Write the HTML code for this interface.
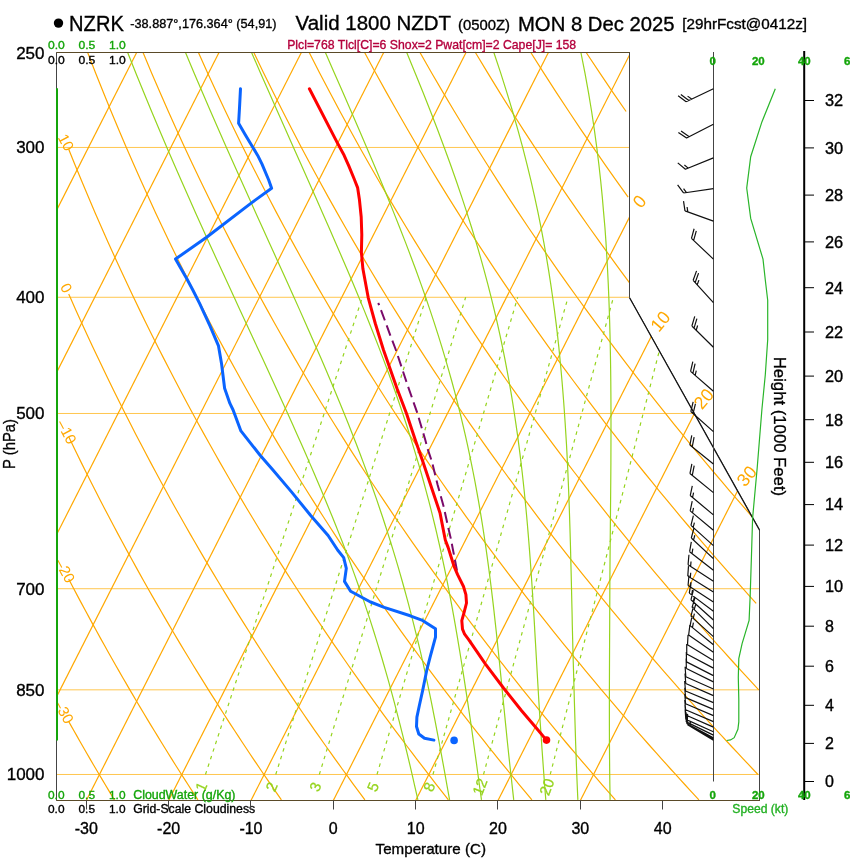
<!DOCTYPE html><html><head><meta charset="utf-8"><style>html,body{margin:0;padding:0;background:#fff;width:850px;height:860px;overflow:hidden}svg{display:block}text{font-family:"Liberation Sans",sans-serif}svg{will-change:transform}</style></head><body>
<svg width="850" height="860" viewBox="0 0 850 860">
<rect width="850" height="860" fill="#fff"/>
<defs><clipPath id="cp"><polygon points="56.5,800.5 759.5,800.5 759.5,529.5 629.5,297.31 629.5,52.5 56.5,52.5"/></clipPath></defs>
<g clip-path="url(#cp)" fill="none">
<line x1="56.5" y1="52.5" x2="760" y2="52.5" stroke="#ffc64f" stroke-width="1"/>
<line x1="56.5" y1="147.45" x2="760" y2="147.45" stroke="#ffc64f" stroke-width="1"/>
<line x1="56.5" y1="297.27" x2="760" y2="297.27" stroke="#ffc64f" stroke-width="1"/>
<line x1="56.5" y1="413.48" x2="760" y2="413.48" stroke="#ffc64f" stroke-width="1"/>
<line x1="56.5" y1="588.72" x2="760" y2="588.72" stroke="#ffc64f" stroke-width="1"/>
<line x1="56.5" y1="689.83" x2="760" y2="689.83" stroke="#ffc64f" stroke-width="1"/>
<line x1="56.5" y1="774.47" x2="760" y2="774.47" stroke="#ffc64f" stroke-width="1"/>
<line x1="-490.14" y1="800.5" x2="-110.37" y2="52.5" stroke="#ffa800" stroke-width="1.2"/>
<line x1="-407.8" y1="800.5" x2="-28.02" y2="52.5" stroke="#ffa800" stroke-width="1.2"/>
<line x1="-325.45" y1="800.5" x2="54.32" y2="52.5" stroke="#ffa800" stroke-width="1.2"/>
<line x1="-243.11" y1="800.5" x2="136.67" y2="52.5" stroke="#ffa800" stroke-width="1.2"/>
<line x1="-160.76" y1="800.5" x2="219.01" y2="52.5" stroke="#ffa800" stroke-width="1.2"/>
<line x1="-78.42" y1="800.5" x2="301.36" y2="52.5" stroke="#ffa800" stroke-width="1.2"/>
<line x1="3.93" y1="800.5" x2="383.7" y2="52.5" stroke="#ffa800" stroke-width="1.2"/>
<line x1="86.27" y1="800.5" x2="466.05" y2="52.5" stroke="#ffa800" stroke-width="1.2"/>
<line x1="168.62" y1="800.5" x2="548.39" y2="52.5" stroke="#ffa800" stroke-width="1.2"/>
<line x1="250.96" y1="800.5" x2="630.74" y2="52.5" stroke="#ffa800" stroke-width="1.2"/>
<line x1="333.31" y1="800.5" x2="713.08" y2="52.5" stroke="#ffa800" stroke-width="1.2"/>
<line x1="415.65" y1="800.5" x2="795.43" y2="52.5" stroke="#ffa800" stroke-width="1.2"/>
<line x1="497.99" y1="800.5" x2="877.77" y2="52.5" stroke="#ffa800" stroke-width="1.2"/>
<line x1="580.34" y1="800.5" x2="960.11" y2="52.5" stroke="#ffa800" stroke-width="1.2"/>
<polyline points="114.41,799.88 111.39,794.89 108.36,789.86 105.31,784.78 102.26,779.65 99.18,774.47 96.1,769.23 92.99,763.95 89.88,758.61 86.75,753.21 83.6,747.76 80.44,742.24 77.26,736.67 74.07,731.04 70.86,725.35 68.7,721.5" stroke="#ffa800" stroke-width="1.2"/>
<polyline points="197.91,799.88 194.66,794.89 191.4,789.86 188.13,784.78 184.84,779.65 181.53,774.47 178.2,769.23 174.86,763.95 171.51,758.61 168.14,753.21 164.75,747.76 161.34,742.24 157.91,736.67 154.47,731.04 151.01,725.35 147.53,719.6 144.04,713.78 140.52,707.89 136.99,701.94 133.43,695.92 129.86,689.83 126.27,683.67 122.66,677.43 119.03,671.12 115.37,664.73 111.7,658.26 108.01,651.71 104.29,645.07 100.55,638.35 96.8,631.54 93.01,624.65 89.21,617.66 85.38,610.57 81.53,603.39 77.66,596.1 73.76,588.72 69.84,581.22 68.7,579.03" stroke="#ffa800" stroke-width="1.2"/>
<polyline points="281.41,799.88 277.94,794.89 274.45,789.86 270.94,784.78 267.41,779.65 263.87,774.47 260.31,769.23 256.73,763.95 253.14,758.61 249.52,753.21 245.89,747.76 242.24,742.24 238.57,736.67 234.88,731.04 231.16,725.35 227.43,719.6 223.68,713.78 219.91,707.89 216.12,701.94 212.3,695.92 208.47,689.83 204.61,683.67 200.73,677.43 196.83,671.12 192.9,664.73 188.96,658.26 184.98,651.71 180.99,645.07 176.97,638.35 172.92,631.54 168.85,624.65 164.76,617.66 160.64,610.57 156.49,603.39 152.32,596.1 148.12,588.72 143.89,581.22 139.63,573.62 135.35,565.9 131.04,558.07 126.69,550.12 122.32,542.05 117.92,533.85 113.48,525.51 109.02,517.04 104.52,508.44 99.99,499.68 95.42,490.78 90.83,481.72 86.19,472.5 81.53,463.12 76.82,453.56 72.08,443.83 68.7,436.8" stroke="#ffa800" stroke-width="1.2"/>
<polyline points="364.91,799.88 361.21,794.89 357.49,789.86 353.75,784.78 349.99,779.65 346.22,774.47 342.42,769.23 338.6,763.95 334.77,758.61 330.91,753.21 327.04,747.76 323.14,742.24 319.22,736.67 315.28,731.04 311.32,725.35 307.33,719.6 303.33,713.78 299.3,707.89 295.25,701.94 291.17,695.92 287.07,689.83 282.95,683.67 278.8,677.43 274.63,671.12 270.43,664.73 266.21,658.26 261.96,651.71 257.68,645.07 253.38,638.35 249.05,631.54 244.7,624.65 240.31,617.66 235.9,610.57 231.45,603.39 226.98,596.1 222.48,588.72 217.94,581.22 213.38,573.62 208.78,565.9 204.15,558.07 199.49,550.12 194.8,542.05 190.07,533.85 185.31,525.51 180.51,517.04 175.67,508.44 170.8,499.68 165.89,490.78 160.94,481.72 155.96,472.5 150.93,463.12 145.86,453.56 140.75,443.83 135.6,433.91 130.41,423.8 125.17,413.48 119.89,402.96 114.56,392.22 109.19,381.26 103.77,370.06 98.3,358.61 92.78,346.91 87.2,334.94 81.58,322.68 75.9,310.13 70.17,297.27 68.7,293.92" stroke="#ffa800" stroke-width="1.2"/>
<polyline points="448.41,799.88 444.48,794.89 440.53,789.86 436.56,784.78 432.57,779.65 428.56,774.47 424.53,769.23 420.48,763.95 416.4,758.61 412.3,753.21 408.18,747.76 404.04,742.24 399.87,736.67 395.68,731.04 391.47,725.35 387.23,719.6 382.97,713.78 378.69,707.89 374.38,701.94 370.04,695.92 365.68,689.83 361.29,683.67 356.87,677.43 352.43,671.12 347.96,664.73 343.46,658.26 338.94,651.71 334.38,645.07 329.8,638.35 325.18,631.54 320.54,624.65 315.86,617.66 311.15,610.57 306.41,603.39 301.64,596.1 296.84,588.72 292,581.22 287.12,573.62 282.22,565.9 277.27,558.07 272.29,550.12 267.28,542.05 262.22,533.85 257.13,525.51 252,517.04 246.82,508.44 241.61,499.68 236.35,490.78 231.06,481.72 225.72,472.5 220.33,463.12 214.9,453.56 209.43,443.83 203.9,433.91 198.33,423.8 192.71,413.48 187.04,402.96 181.32,392.22 175.54,381.26 169.71,370.06 163.83,358.61 157.89,346.91 151.89,334.94 145.83,322.68 139.71,310.13 133.53,297.27 127.29,284.09 120.98,270.56 114.61,256.67 108.16,242.4 101.65,227.73 95.06,212.64 88.4,197.09 81.67,181.06 74.85,164.53 68.7,149.28" stroke="#ffa800" stroke-width="1.2"/>
<polyline points="531.91,799.88 527.76,794.89 523.58,789.86 519.38,784.78 515.15,779.65 510.91,774.47 506.64,769.23 502.35,763.95 498.03,758.61 493.69,753.21 489.33,747.76 484.94,742.24 480.53,736.67 476.09,731.04 471.62,725.35 467.13,719.6 462.62,713.78 458.08,707.89 453.51,701.94 448.91,695.92 444.28,689.83 439.63,683.67 434.94,677.43 430.23,671.12 425.49,664.73 420.72,658.26 415.91,651.71 411.08,645.07 406.21,638.35 401.31,631.54 396.38,624.65 391.41,617.66 386.41,610.57 381.37,603.39 376.3,596.1 371.2,588.72 366.05,581.22 360.87,573.62 355.65,565.9 350.39,558.07 345.09,550.12 339.75,542.05 334.37,533.85 328.95,525.51 323.48,517.04 317.97,508.44 312.42,499.68 306.82,490.78 301.17,481.72 295.48,472.5 289.74,463.12 283.94,453.56 278.1,443.83 272.2,433.91 266.25,423.8 260.25,413.48 254.19,402.96 248.07,392.22 241.89,381.26 235.66,370.06 229.36,358.61 223,346.91 216.58,334.94 210.08,322.68 203.52,310.13 196.9,297.27 190.19,284.09 183.42,270.56 176.57,256.67 169.64,242.4 162.63,227.73 155.54,212.64 148.37,197.09 141.11,181.06 133.76,164.53 126.32,147.45 118.78,129.8 111.15,111.52 103.42,92.58 95.59,72.93 87.65,52.5" stroke="#ffa800" stroke-width="1.2"/>
<polyline points="615.42,799.88 611.03,794.89 606.62,789.86 602.19,784.78 597.73,779.65 593.25,774.47 588.75,769.23 584.22,763.95 579.66,758.61 575.08,753.21 570.47,747.76 565.84,742.24 561.18,736.67 556.49,731.04 551.78,725.35 547.03,719.6 542.26,713.78 537.46,707.89 532.63,701.94 527.78,695.92 522.89,689.83 517.97,683.67 513.02,677.43 508.03,671.12 503.02,664.73 497.97,658.26 492.89,651.71 487.77,645.07 482.62,638.35 477.44,631.54 472.22,624.65 466.96,617.66 461.67,610.57 456.33,603.39 450.96,596.1 445.55,588.72 440.11,581.22 434.61,573.62 429.08,565.9 423.51,558.07 417.89,550.12 412.23,542.05 406.52,533.85 400.77,525.51 394.97,517.04 389.13,508.44 383.23,499.68 377.29,490.78 371.29,481.72 365.24,472.5 359.14,463.12 352.98,453.56 346.77,443.83 340.5,433.91 334.17,423.8 327.78,413.48 321.34,402.96 314.82,392.22 308.25,381.26 301.6,370.06 294.89,358.61 288.11,346.91 281.26,334.94 274.34,322.68 267.33,310.13 260.26,297.27 253.1,284.09 245.86,270.56 238.53,256.67 231.12,242.4 223.62,227.73 216.03,212.64 208.34,197.09 200.55,181.06 192.67,164.53 184.68,147.45 176.58,129.8 168.37,111.52 160.05,92.58 151.6,72.93 143.04,52.5" stroke="#ffa800" stroke-width="1.2"/>
<polyline points="698.92,799.88 694.3,794.89 689.66,789.86 685,784.78 680.31,779.65 675.6,774.47 670.85,769.23 666.09,763.95 661.29,758.61 656.47,753.21 651.62,747.76 646.74,742.24 641.83,736.67 636.9,731.04 631.93,725.35 626.93,719.6 621.91,713.78 616.85,707.89 611.76,701.94 606.64,695.92 601.49,689.83 596.31,683.67 591.09,677.43 585.83,671.12 580.55,664.73 575.22,658.26 569.86,651.71 564.47,645.07 559.04,638.35 553.57,631.54 548.06,624.65 542.51,617.66 536.92,610.57 531.3,603.39 525.63,596.1 519.91,588.72 514.16,581.22 508.36,573.62 502.52,565.9 496.63,558.07 490.69,550.12 484.71,542.05 478.68,533.85 472.59,525.51 466.46,517.04 460.28,508.44 454.04,499.68 447.75,490.78 441.4,481.72 435,472.5 428.54,463.12 422.02,453.56 415.44,443.83 408.8,433.91 402.09,423.8 395.32,413.48 388.48,402.96 381.58,392.22 374.6,381.26 367.55,370.06 360.43,358.61 353.23,346.91 345.95,334.94 338.59,322.68 331.15,310.13 323.62,297.27 316,284.09 308.3,270.56 300.5,256.67 292.6,242.4 284.61,227.73 276.51,212.64 268.31,197.09 260,181.06 251.57,164.53 243.03,147.45 234.37,129.8 225.59,111.52 216.67,92.58 207.62,72.93 198.43,52.5" stroke="#ffa800" stroke-width="1.2"/>
<polyline points="757.94,774.47 752.96,769.23 747.96,763.95 742.92,758.61 737.86,753.21 732.76,747.76 727.64,742.24 722.49,736.67 717.3,731.04 712.08,725.35 706.84,719.6 701.55,713.78 696.24,707.89 690.89,701.94 685.51,695.92 680.1,689.83 674.65,683.67 669.16,677.43 663.64,671.12 658.07,664.73 652.48,658.26 646.84,651.71 641.17,645.07 635.45,638.35 629.7,631.54 623.9,624.65 618.06,617.66 612.18,610.57 606.26,603.39 600.29,596.1 594.27,588.72 588.21,581.22 582.1,573.62 575.95,565.9 569.75,558.07 563.49,550.12 557.19,542.05 550.83,533.85 544.42,525.51 537.95,517.04 531.43,508.44 524.85,499.68 518.22,490.78 511.52,481.72 504.76,472.5 497.94,463.12 491.06,453.56 484.11,443.83 477.1,433.91 470.01,423.8 462.86,413.48 455.63,402.96 448.33,392.22 440.95,381.26 433.49,370.06 425.96,358.61 418.34,346.91 410.63,334.94 402.84,322.68 394.96,310.13 386.98,297.27 378.91,284.09 370.74,270.56 362.46,256.67 354.08,242.4 345.6,227.73 337,212.64 328.28,197.09 319.44,181.06 310.48,164.53 301.39,147.45 292.17,129.8 282.8,111.52 273.3,92.58 263.64,72.93 253.83,52.5" stroke="#ffa800" stroke-width="1.2"/>
<polyline points="758.7,689.83 752.98,683.67 747.23,677.43 741.44,671.12 735.6,664.73 729.73,658.26 723.82,651.71 717.86,645.07 711.86,638.35 705.82,631.54 699.74,624.65 693.61,617.66 687.44,610.57 681.22,603.39 674.95,596.1 668.63,588.72 662.27,581.22 655.85,573.62 649.38,565.9 642.86,558.07 636.29,550.12 629.66,542.05 622.98,533.85 616.24,525.51 609.44,517.04 602.58,508.44 595.66,499.68 588.68,490.78 581.64,481.72 574.53,472.5 567.35,463.12 560.1,453.56 552.78,443.83 545.4,433.91 537.93,423.8 530.39,413.48 522.78,402.96 515.08,392.22 507.3,381.26 499.44,370.06 491.49,358.61 483.45,346.91 475.32,334.94 467.09,322.68 458.77,310.13 450.34,297.27 441.81,284.09 433.17,270.56 424.43,256.67 415.56,242.4 406.58,227.73 397.48,212.64 388.25,197.09 378.89,181.06 369.39,164.53 359.75,147.45 349.96,129.8 340.02,111.52 329.92,92.58 319.65,72.93 309.22,52.5" stroke="#ffa800" stroke-width="1.2"/>
<polyline points="756.18,603.39 749.61,596.1 742.99,588.72 736.32,581.22 729.59,573.62 722.82,565.9 715.98,558.07 709.09,550.12 702.14,542.05 695.13,533.85 688.06,525.51 680.93,517.04 673.73,508.44 666.47,499.68 659.15,490.78 651.75,481.72 644.29,472.5 636.75,463.12 629.14,453.56 621.46,443.83 613.69,433.91 605.85,423.8 597.93,413.48 589.93,402.96 581.83,392.22 573.66,381.26 565.38,370.06 557.02,358.61 548.56,346.91 540,334.94 531.34,322.68 522.58,310.13 513.7,297.27 504.72,284.09 495.61,270.56 486.39,256.67 477.04,242.4 467.57,227.73 457.96,212.64 448.22,197.09 438.33,181.06 428.29,164.53 418.1,147.45 407.75,129.8 397.24,111.52 386.54,92.58 375.67,72.93 364.61,52.5" stroke="#ffa800" stroke-width="1.2"/>
<polyline points="752.42,517.04 744.89,508.44 737.28,499.68 729.61,490.78 721.87,481.72 714.05,472.5 706.15,463.12 698.18,453.56 690.13,443.83 681.99,433.91 673.77,423.8 665.47,413.48 657.07,402.96 648.59,392.22 640.01,381.26 631.33,370.06 622.55,358.61 613.67,346.91 604.69,334.94 595.59,322.68 586.39,310.13 577.06,297.27 567.62,284.09 558.05,270.56 548.35,256.67 538.53,242.4 528.56,227.73 518.45,212.64 508.19,197.09 497.77,181.06 487.2,164.53 476.46,147.45 465.55,129.8 454.45,111.52 443.17,92.58 431.69,72.93 420,52.5" stroke="#ffa800" stroke-width="1.2"/>
<polyline points="630.52,284.09 620.49,270.56 610.32,256.67 600.01,242.4 589.54,227.73 578.93,212.64 568.16,197.09 557.22,181.06 546.11,164.53 534.82,147.45 523.34,129.8 511.67,111.52 499.79,92.58 487.71,72.93 475.39,52.5" stroke="#ffa800" stroke-width="1.2"/>
<polyline points="628.13,197.09 616.66,181.06 605.01,164.53 593.17,147.45 581.13,129.8 568.89,111.52 556.42,92.58 543.72,72.93 530.79,52.5" stroke="#ffa800" stroke-width="1.2"/>
<polyline points="626.1,111.52 613.04,92.58 599.74,72.93 586.18,52.5" stroke="#ffa800" stroke-width="1.2"/>
<polyline points="417.9,799.88 416.77,794.89 415.62,789.86 414.46,784.78 413.29,779.65 412.09,774.47 410.88,769.23 409.64,763.95 408.37,758.61 407.07,753.21 405.75,747.76 404.43,742.24 403.07,736.67 401.67,731.04 400.24,725.35 398.77,719.6 397.28,713.78 395.74,707.89 394.17,701.94 392.56,695.92 390.9,689.83 389.21,683.67 387.46,677.43 385.67,671.12 383.83,664.73 381.93,658.26 379.99,651.71 377.98,645.07 375.91,638.35 373.78,631.54 371.59,624.65 369.33,617.66 366.99,610.57 364.59,603.39 362.1,596.1 359.54,588.72 356.89,581.22 354.16,573.62 351.34,565.9 348.46,558.07 345.46,550.12 342.34,542.05 339.12,533.85 335.81,525.51 332.4,517.04 328.88,508.44 325.27,499.68 321.55,490.78 317.71,481.72 313.77,472.5 309.72,463.12 305.55,453.56 301.26,443.83 296.85,433.91 292.33,423.8 287.68,413.48 282.91,402.96 278.01,392.22 272.98,381.26 267.83,370.06 262.55,358.61 257.13,346.91 251.59,334.94 245.91,322.68 240.09,310.13 234.14,297.27 228.05,284.09 221.83,270.56 215.46,256.67 208.95,242.4 202.3,227.73 195.51,212.64 188.57,197.09 181.48,181.06 174.24,164.53 166.86,147.45 159.32,129.8 151.63,111.52 143.79,92.58 135.8,72.93 127.66,52.5 119.36,31.24" stroke="#96d41e" stroke-width="1.2"/>
<polyline points="449.59,799.88 448.7,794.89 447.79,789.86 446.88,784.78 445.96,779.65 445.03,774.47 444.09,769.23 443.13,763.95 442.15,758.61 441.15,753.21 440.14,747.76 439.14,742.24 438.09,736.67 437.03,731.04 435.94,725.35 434.83,719.6 433.69,713.78 432.53,707.89 431.33,701.94 430.1,695.92 428.84,689.83 427.55,683.67 426.22,677.43 424.84,671.12 423.42,664.73 421.95,658.26 420.41,651.71 418.83,645.07 417.2,638.35 415.53,631.54 413.8,624.65 412.03,617.66 410.2,610.57 408.3,603.39 406.35,596.1 404.33,588.72 402.24,581.22 400.07,573.62 397.83,565.9 395.51,558.07 393.1,550.12 390.59,542.05 388.03,533.85 385.34,525.51 382.56,517.04 379.68,508.44 376.68,499.68 373.57,490.78 370.35,481.72 367,472.5 363.53,463.12 359.93,453.56 356.2,443.83 352.33,433.91 348.32,423.8 344.16,413.48 339.86,402.96 335.4,392.22 330.79,381.26 326.02,370.06 321.1,358.61 316.01,346.91 310.75,334.94 305.33,322.68 299.74,310.13 293.97,297.27 288.03,284.09 281.92,270.56 275.63,256.67 269.15,242.4 262.5,227.73 255.66,212.64 248.63,197.09 241.42,181.06 234.02,164.53 226.42,147.45 218.63,129.8 210.64,111.52 202.46,92.58 194.08,72.93 185.5,52.5 176.72,31.24" stroke="#96d41e" stroke-width="1.2"/>
<polyline points="481.48,799.88 480.78,794.89 480.08,789.86 479.38,784.78 478.68,779.65 477.97,774.47 477.25,769.23 476.53,763.95 475.79,758.61 475.04,753.21 474.28,747.76 473.5,742.24 472.75,736.67 471.96,731.04 471.15,725.35 470.3,719.6 469.43,713.78 468.54,707.89 467.65,701.94 466.74,695.92 465.81,689.83 464.86,683.67 463.9,677.43 462.91,671.12 461.9,664.73 460.86,658.26 459.8,651.71 458.7,645.07 457.58,638.35 456.42,631.54 455.22,624.65 453.98,617.66 452.71,610.57 451.38,603.39 450.01,596.1 448.59,588.72 447.11,581.22 445.58,573.62 443.98,565.9 442.32,558.07 440.59,550.12 438.78,542.05 436.89,533.85 434.92,525.51 432.86,517.04 430.7,508.44 428.44,499.68 426.08,490.78 423.61,481.72 421.03,472.5 418.32,463.12 415.48,453.56 412.51,443.83 409.4,433.91 406.14,423.8 402.73,413.48 399.16,402.96 395.42,392.22 391.51,381.26 387.42,370.06 383.15,358.61 378.68,346.91 374.02,334.94 369.16,322.68 364.09,310.13 358.81,297.27 353.31,284.09 347.59,270.56 341.65,256.67 335.47,242.4 329.07,227.73 322.43,212.64 315.54,197.09 308.42,181.06 301.11,164.53 293.5,147.45 285.63,129.8 277.51,111.52 269.13,92.58 260.49,72.93 251.58,52.5 242.41,31.24" stroke="#96d41e" stroke-width="1.2"/>
<polyline points="513.72,799.88 513.17,794.89 512.61,789.86 512.05,784.78 511.48,779.65 510.91,774.47 510.32,769.23 509.74,763.95 509.16,758.61 508.58,753.21 508,747.76 507.42,742.24 506.84,736.67 506.29,731.04 505.72,725.35 505.14,719.6 504.56,713.78 503.98,707.89 503.39,701.94 502.8,695.92 502.2,689.83 501.59,683.67 500.97,677.43 500.34,671.12 499.7,664.73 499.04,658.26 498.37,651.71 497.68,645.07 496.97,638.35 496.24,631.54 495.48,624.65 494.7,617.66 493.94,610.57 493.1,603.39 492.24,596.1 491.35,588.72 490.41,581.22 489.44,573.62 488.42,565.9 487.35,558.07 486.24,550.12 485.07,542.05 483.84,533.85 482.55,525.51 481.19,517.04 479.76,508.44 478.25,499.68 476.66,490.78 474.98,481.72 473.2,472.5 471.3,463.12 469.34,453.56 467.26,443.83 465.02,433.91 462.67,423.8 460.18,413.48 457.54,402.96 454.75,392.22 451.79,381.26 448.66,370.06 445.34,358.61 441.83,346.91 438.11,334.94 434.18,322.68 430.02,310.13 425.63,297.27 420.99,284.09 416.09,270.56 410.93,256.67 405.49,242.4 399.76,227.73 393.74,212.64 387.47,197.09 380.86,181.06 373.93,164.53 366.68,147.45 359.1,129.8 351.19,111.52 342.94,92.58 334.34,72.93 325.39,52.5 316.08,31.24" stroke="#96d41e" stroke-width="1.2"/>
<polyline points="545.81,799.88 545.41,794.89 545.01,789.86 544.62,784.78 544.23,779.65 543.84,774.47 543.46,769.23 543.08,763.95 542.7,758.61 542.31,753.21 541.92,747.76 541.56,742.24 541.17,736.67 540.79,731.04 540.4,725.35 540.01,719.6 539.63,713.78 539.27,707.89 538.91,701.94 538.55,695.92 538.19,689.83 537.83,683.67 537.47,677.43 537.11,671.12 536.74,664.73 536.37,658.26 536,651.71 535.61,645.07 535.22,638.35 534.82,631.54 534.44,624.65 534.03,617.66 533.6,610.57 533.16,603.39 532.7,596.1 532.22,588.72 531.72,581.22 531.2,573.62 530.66,565.9 530.09,558.07 529.49,550.12 528.85,542.05 528.18,533.85 527.48,525.51 526.73,517.04 525.93,508.44 525.08,499.68 524.18,490.78 523.22,481.72 522.2,472.5 521.11,463.12 519.94,453.56 518.69,443.83 517.35,433.91 515.91,423.8 514.37,413.48 512.72,402.96 510.95,392.22 509.05,381.26 506.99,370.06 504.81,358.61 502.45,346.91 499.92,334.94 497.21,322.68 494.29,310.13 491.15,297.27 487.79,284.09 484.18,270.56 480.3,256.67 476.14,242.4 471.67,227.73 466.89,212.64 461.77,197.09 456.29,181.06 450.47,164.53 444.24,147.45 437.61,129.8 430.56,111.52 423.07,92.58 415.13,72.93 406.73,52.5 397.86,31.24" stroke="#96d41e" stroke-width="1.2"/>
<polyline points="577.88,799.88 577.64,794.89 577.42,789.86 577.2,784.78 576.99,779.65 576.78,774.47 576.58,769.23 576.38,763.95 576.19,758.61 575.99,753.21 575.8,747.76 575.6,742.24 575.45,736.67 575.27,731.04 575.09,725.35 574.92,719.6 574.75,713.78 574.58,707.89 574.4,701.94 574.23,695.92 574.06,689.83 573.88,683.67 573.71,677.43 573.53,671.12 573.34,664.73 573.15,658.26 572.96,651.71 572.79,645.07 572.63,638.35 572.46,631.54 572.29,624.65 572.17,617.66 572.01,610.57 571.84,603.39 571.68,596.1 571.51,588.72 571.34,581.22 571.16,573.62 570.97,565.9 570.77,558.07 570.57,550.12 570.35,542.05 570.11,533.85 569.86,525.51 569.59,517.04 569.3,508.44 568.99,499.68 568.65,490.78 568.28,481.72 567.88,472.5 567.44,463.12 566.97,453.56 566.45,443.83 565.83,433.91 565.2,423.8 564.51,413.48 563.76,402.96 562.93,392.22 562.02,381.26 561.03,370.06 559.94,358.61 558.8,346.91 557.48,334.94 556.02,322.68 554.43,310.13 552.64,297.27 550.75,284.09 548.65,270.56 546.34,256.67 543.81,242.4 541.05,227.73 538.02,212.64 534.69,197.09 531.05,181.06 527.05,164.53 522.67,147.45 517.86,129.8 512.62,111.52 506.89,92.58 500.65,72.93 493.85,52.5 486.47,31.24" stroke="#96d41e" stroke-width="1.2"/>
<polyline points="610.12,799.88 610.02,794.89 609.94,789.86 609.86,784.78 609.79,779.65 609.72,774.47 609.66,769.23 609.61,763.95 609.56,758.61 609.52,753.21 609.48,747.76 609.44,742.24 609.43,736.67 609.41,731.04 609.4,725.35 609.39,719.6 609.38,713.78 609.38,707.89 609.39,701.94 609.4,695.92 609.41,689.83 609.43,683.67 609.45,677.43 609.47,671.12 609.49,664.73 609.52,658.26 609.55,651.71 609.58,645.07 609.61,638.35 609.65,631.54 609.68,624.65 609.71,617.66 609.73,610.57 609.79,603.39 609.82,596.1 609.85,588.72 609.87,581.22 609.92,573.62 609.98,565.9 610.05,558.07 610.12,550.12 610.2,542.05 610.28,533.85 610.36,525.51 610.44,517.04 610.52,508.44 610.6,499.68 610.68,490.78 610.76,481.72 610.83,472.5 610.9,463.12 610.92,453.56 610.96,443.83 610.98,433.91 610.99,423.8 610.98,413.48 610.95,402.96 610.88,392.22 610.79,381.26 610.66,370.06 610.49,358.61 610.28,346.91 610.01,334.94 609.68,322.68 609.29,310.13 608.82,297.27 608.26,284.09 607.6,270.56 606.83,256.67 605.98,242.4 604.95,227.73 603.62,212.64 602.3,197.09 600.7,181.06 598.87,164.53 596.77,147.45 594.37,129.8 591.63,111.52 588.5,92.58 584.93,72.93 580.9,52.5 576.3,31.24" stroke="#96d41e" stroke-width="1.2"/>
<line x1="205.48" y1="774.47" x2="362.38" y2="297.27" stroke="#96d41e" stroke-width="1.2" stroke-dasharray="3.5,4.5"/>
<line x1="275.75" y1="774.47" x2="426.22" y2="297.27" stroke="#96d41e" stroke-width="1.2" stroke-dasharray="3.5,4.5"/>
<line x1="319.32" y1="774.47" x2="465.66" y2="297.27" stroke="#96d41e" stroke-width="1.2" stroke-dasharray="3.5,4.5"/>
<line x1="377" y1="774.47" x2="517.72" y2="297.27" stroke="#96d41e" stroke-width="1.2" stroke-dasharray="3.5,4.5"/>
<line x1="432.96" y1="774.47" x2="568.06" y2="297.27" stroke="#96d41e" stroke-width="1.2" stroke-dasharray="3.5,4.5"/>
<line x1="483.52" y1="774.47" x2="613.43" y2="297.27" stroke="#96d41e" stroke-width="1.2" stroke-dasharray="3.5,4.5"/>
<line x1="550.25" y1="774.47" x2="673.11" y2="297.27" stroke="#96d41e" stroke-width="1.2" stroke-dasharray="3.5,4.5"/>
</g>
<polygon points="56.5,800.5 759.5,800.5 759.5,529.5 629.5,297.31 629.5,52.5 56.5,52.5" fill="none" stroke="#444" stroke-width="1"/>
<line x1="759.5" y1="530.3" x2="629.5" y2="297.81" stroke="#111" stroke-width="1.1"/>
<line x1="56.5" y1="800.5" x2="760" y2="800.5" stroke="#5a4a28" stroke-width="1"/>
<line x1="56.5" y1="52.5" x2="630" y2="52.5" stroke="#5a4a28" stroke-width="1"/>
<text x="0" y="0" font-size="15" fill="#ffa800"  text-anchor="middle" transform="translate(65.8,142.4) rotate(62) translate(0,5)">10</text>
<text x="0" y="0" font-size="15" fill="#ffa800"  text-anchor="middle" transform="translate(66.1,288.1) rotate(62) translate(0,5)">0</text>
<text x="0" y="0" font-size="15" fill="#ffa800"  text-anchor="middle" transform="translate(66.5,432) rotate(62) translate(0,5)">&#8211;10</text>
<text x="0" y="0" font-size="15" fill="#ffa800"  text-anchor="middle" transform="translate(64.9,570.8) rotate(62) translate(0,5)">&#8211;20</text>
<text x="0" y="0" font-size="15" fill="#ffa800"  text-anchor="middle" transform="translate(63.6,711.5) rotate(62) translate(0,5)">&#8211;30</text>
<text x="0" y="0" font-size="18" fill="#ffa800"  text-anchor="middle" transform="translate(639.5,201.5) rotate(-50) translate(0,6)">0</text>
<text x="0" y="0" font-size="18" fill="#ffa800"  text-anchor="middle" transform="translate(660.5,321.5) rotate(-50) translate(0,6)">10</text>
<text x="0" y="0" font-size="18" fill="#ffa800"  text-anchor="middle" transform="translate(703.8,398.9) rotate(-50) translate(0,6)">20</text>
<text x="0" y="0" font-size="18" fill="#ffa800"  text-anchor="middle" transform="translate(746.9,476.1) rotate(-50) translate(0,6)">30</text>
<text x="0" y="0" font-size="15" fill="#96d41e" stroke="#96d41e" stroke-width="0.25"  text-anchor="middle" transform="translate(201.42,786.82) rotate(-65.8) translate(0,5)">1</text>
<text x="0" y="0" font-size="15" fill="#96d41e" stroke="#96d41e" stroke-width="0.25"  text-anchor="middle" transform="translate(271.84,786.87) rotate(-66.5) translate(0,5)">2</text>
<text x="0" y="0" font-size="15" fill="#96d41e" stroke="#96d41e" stroke-width="0.25"  text-anchor="middle" transform="translate(315.51,786.9) rotate(-66.95) translate(0,5)">3</text>
<text x="0" y="0" font-size="15" fill="#96d41e" stroke="#96d41e" stroke-width="0.25"  text-anchor="middle" transform="translate(373.32,786.94) rotate(-67.57) translate(0,5)">5</text>
<text x="0" y="0" font-size="15" fill="#96d41e" stroke="#96d41e" stroke-width="0.25"  text-anchor="middle" transform="translate(429.41,786.98) rotate(-68.19) translate(0,5)">8</text>
<text x="0" y="0" font-size="15" fill="#96d41e" stroke="#96d41e" stroke-width="0.25"  text-anchor="middle" transform="translate(480.11,787.01) rotate(-68.77) translate(0,5)">12</text>
<text x="0" y="0" font-size="15" fill="#96d41e" stroke="#96d41e" stroke-width="0.25"  text-anchor="middle" transform="translate(547.01,787.06) rotate(-69.56) translate(0,5)">20</text>
<polyline points="457,570.6 450.6,537.6 448.8,530 443.5,505.9 437.6,484.7 431.8,461.2 427.6,448.8 425.3,440 417.1,412.4 407.6,385.3 395.9,350 390.3,335.3 384.7,320 379.1,305 378.2,303" fill="none" stroke="#7a0a6a" stroke-width="2" stroke-dasharray="11,5.3"/>
<polyline points="309.4,88.8 337.1,142.4 344.1,155.3 348.8,165.9 354.1,178.8 357.6,187.6 359.4,199.4 361.2,217 361.8,234.7 361.4,252.4 362.9,268.8 368.2,297.6 375.3,323.5 383.5,350 397.1,388.8 406.5,413.5 415.3,440 423.5,463.5 432.9,491.8 440,512.9 445.3,540 448.2,547.6 454.1,566.5 457.6,574.7 463.5,586.5 465.9,594.7 466.5,603 464.1,612.4 461.8,620.6 462.5,629.1 464.6,634.2 468.7,639.6 485.3,663.8 503.5,688 521.6,710.7 538.2,730.3 545.8,739.4" fill="none" stroke="#ff0000" stroke-width="3" stroke-linejoin="round" stroke-linecap="round"/>
<polyline points="240.5,88.7 239.5,107.9 238.6,123.3 245.1,134.5 257.7,155.4 261.9,163.8 268.7,180 271.6,188.3 251.8,202.6 206.6,237.2 175.5,259.1 186.8,278.8 192.8,290 199.7,303.6 210.2,326.3 218.5,345.9 221.6,364.1 224.6,388.3 229.9,403.4 233.1,410 240.9,430.9 260.1,455.3 272.3,469.3 291.5,491.9 310.7,515.5 328.1,535.5 337.6,550 343.7,557.6 346.3,568.4 344.5,581.4 350.6,591.3 370.5,602 384.2,607.4 410.2,615.8 422.5,620.4 435.5,628.8 435.5,637.2 430.1,657.1 426.8,670 422.6,690.7 419.3,705.8 416.9,717.1 416.5,726.5 418.8,734 424.5,738.2 433.9,740.1" fill="none" stroke="#0a64ff" stroke-width="3" stroke-linejoin="round" stroke-linecap="round"/>
<circle cx="546.5" cy="740.1" r="3.8" fill="#ff0000"/>
<circle cx="454.1" cy="740.4" r="3.8" fill="#0a64ff"/>
<line x1="57" y1="88.2" x2="57" y2="740.5" stroke="#14a50a" stroke-width="2"/>
<line x1="713.5" y1="52" x2="713.5" y2="781.5" stroke="#444" stroke-width="1"/>
<polyline points="775.3,88.8 761.9,121.9 750.7,156.7 746.7,188.1 750.7,218.4 763,259.1 765.3,280 767.7,300.2 767.7,339.8 765.3,374.7 761.9,409.5 757.2,467.7 752.6,518.1 751.4,557.7 750.2,594.9 749.1,620.5 742.1,643.7 738.8,658.6 738.3,677.2 738.8,699.5 738.8,721.9 737.9,729.3 734.2,737.7 730.5,739.9 726.7,740.5" fill="none" stroke="#2ab52a" stroke-width="1.2"/>
<path d="M713.4 88.7L686.14 101.7M686.14 101.7l-8.01 -5.93M688.87 100.4l-8.01 -5.93M691.59 99.1l-4.01 -2.96M713.4 124.2L686.57 138.06M686.57 138.06l-8.2 -5.67M689.25 136.68l-8.2 -5.67M713.4 157.9L685.41 169.25M685.41 169.25l-7.64 -6.4M688.21 168.12l-3.82 -3.2M713.4 188.6L683.52 192.98M683.52 192.98l-5.91 -8.03M686.51 192.54l-2.95 -4.01M713.4 221.1L684.97 210.92M684.97 210.92l-1.44 -9.86M687.81 211.94l-0.72 -4.93M713.4 259.1L691.46 238.35M691.46 238.35l2.65 -9.61M693.65 240.42l2.65 -9.61M713.4 302.7L693.16 280.29M693.16 280.29l3.39 -9.37M695.18 282.53l3.39 -9.37M697.21 284.77l1.7 -4.69M713.4 347.2L691.89 326M691.89 326l2.85 -9.55M694.04 328.12l2.85 -9.55M696.2 330.24l1.42 -4.78M713.4 391.2L690.58 371.41M690.58 371.41l2.23 -9.71M692.87 373.39l2.23 -9.71M695.15 375.37l1.12 -4.86M713.4 431.6L690.8 411.56M690.8 411.56l2.34 -9.69M693.06 413.57l2.34 -9.69M713.4 464L689.88 445.06M689.88 445.06l1.88 -9.79M692.23 446.95l1.88 -9.79M713.4 492.6L689.95 473.58M689.95 473.58l1.91 -9.78M692.29 475.48l1.91 -9.78M713.4 514.9L690.23 495.53M690.23 495.53l2.06 -9.75M692.55 497.46l1.03 -4.88M713.4 530.2L690.18 510.89M690.18 510.89l2.03 -9.76M692.5 512.82l1.02 -4.88M713.4 545.6L690.96 525.39M690.96 525.39l2.41 -9.67M693.2 527.41l1.21 -4.83M713.4 558.6L691.31 538M691.31 538l2.58 -9.63M693.52 540.06l1.29 -4.81M713.4 570.3L689.6 551.71M689.6 551.71l1.73 -9.81M691.98 553.57l0.87 -4.91M713.4 581.2L688.07 564.75M688.07 564.75l0.87 -9.93M690.6 566.4l0.43 -4.96M713.4 592.1L687.79 576.1M687.79 576.1l0.7 -9.94M690.35 577.7l0.35 -4.97M713.4 601.9L688.07 585.45M688.07 585.45l0.87 -9.93M690.6 587.1l0.43 -4.96M713.4 611.3L689.28 593.13M689.28 593.13l1.56 -9.84M691.69 594.94l0.78 -4.92M713.4 620L690.96 599.79M690.96 599.79l2.41 -9.67M693.2 601.81l1.21 -4.83M713.4 628.7L692.05 607.35M692.05 607.35l2.91 -9.53M694.18 609.48l1.46 -4.77M713.4 636.6L690.96 616.39M690.96 616.39l2.41 -9.67M693.2 618.41l1.21 -4.83M713.4 644.8L690.1 625.59M690.1 625.59l1.99 -9.77M692.43 627.51l0.99 -4.88M713.4 652.3L688.66 634.98M688.66 634.98l1.21 -9.89M713.4 660.4L687.51 644.85M687.51 644.85l0.52 -9.95M713.4 668.1L686.73 653.92M686.73 653.92l-0 -9.97M713.4 675.6L686.49 661.89M686.49 661.89l-0.17 -9.96M713.4 681.9L686.37 668.42M686.37 668.42l-0.26 -9.96M713.4 689L685.81 676.72M685.81 676.72l-0.7 -9.94M713.4 695.6L685.75 683.46M685.75 683.46l-0.75 -9.94M713.4 702.6L685.54 690.95M685.54 690.95l-0.92 -9.92M713.4 709.4L685.6 697.6M685.6 697.6l-0.87 -9.93M713.4 715.6L685.6 703.8M685.6 703.8l-0.87 -9.93M713.4 721.6L685.6 709.8M685.6 709.8l-0.87 -9.93M713.4 727.1L685.73 715.01M685.73 715.01l-0.76 -9.94M713.4 731.7L685.81 719.42M685.81 719.42l-0.7 -9.94M713.4 735.1L686.26 721.86M686.26 721.86l-0.35 -9.96M713.4 737.7L686.73 723.52M686.73 723.52l-0 -9.97M713.4 739.1L687.25 724M687.25 724l0.35 -9.96M713.4 740.2L687.51 724.65M690.1 726.2l0.26 -4.98" fill="none" stroke="#111" stroke-width="1.2" stroke-linecap="butt"/>
<line x1="804.2" y1="51" x2="804.2" y2="800" stroke="#000" stroke-width="2"/>
<line x1="805" y1="100.5" x2="814" y2="100.5" stroke="#000" stroke-width="1"/>
<text x="825" y="106.3" font-size="16" fill="#000" textLength="18.2" lengthAdjust="spacingAndGlyphs" stroke="#000" stroke-width="0.35" >32</text>
<line x1="805" y1="147.9" x2="814" y2="147.9" stroke="#000" stroke-width="1"/>
<text x="825" y="153.7" font-size="16" fill="#000" textLength="18.2" lengthAdjust="spacingAndGlyphs" stroke="#000" stroke-width="0.35" >30</text>
<line x1="805" y1="195.1" x2="814" y2="195.1" stroke="#000" stroke-width="1"/>
<text x="825" y="200.9" font-size="16" fill="#000" textLength="18.2" lengthAdjust="spacingAndGlyphs" stroke="#000" stroke-width="0.35" >28</text>
<line x1="805" y1="241.9" x2="814" y2="241.9" stroke="#000" stroke-width="1"/>
<text x="825" y="247.7" font-size="16" fill="#000" textLength="18.2" lengthAdjust="spacingAndGlyphs" stroke="#000" stroke-width="0.35" >26</text>
<line x1="805" y1="287.7" x2="814" y2="287.7" stroke="#000" stroke-width="1"/>
<text x="825" y="293.5" font-size="16" fill="#000" textLength="18.2" lengthAdjust="spacingAndGlyphs" stroke="#000" stroke-width="0.35" >24</text>
<line x1="805" y1="332" x2="814" y2="332" stroke="#000" stroke-width="1"/>
<text x="825" y="337.8" font-size="16" fill="#000" textLength="18.2" lengthAdjust="spacingAndGlyphs" stroke="#000" stroke-width="0.35" >22</text>
<line x1="805" y1="376.1" x2="814" y2="376.1" stroke="#000" stroke-width="1"/>
<text x="825" y="381.9" font-size="16" fill="#000" textLength="18.2" lengthAdjust="spacingAndGlyphs" stroke="#000" stroke-width="0.35" >20</text>
<line x1="805" y1="419.7" x2="814" y2="419.7" stroke="#000" stroke-width="1"/>
<text x="825" y="425.5" font-size="16" fill="#000" textLength="18.2" lengthAdjust="spacingAndGlyphs" stroke="#000" stroke-width="0.35" >18</text>
<line x1="805" y1="462.3" x2="814" y2="462.3" stroke="#000" stroke-width="1"/>
<text x="825" y="468.1" font-size="16" fill="#000" textLength="18.2" lengthAdjust="spacingAndGlyphs" stroke="#000" stroke-width="0.35" >16</text>
<line x1="805" y1="504.6" x2="814" y2="504.6" stroke="#000" stroke-width="1"/>
<text x="825" y="510.4" font-size="16" fill="#000" textLength="18.2" lengthAdjust="spacingAndGlyphs" stroke="#000" stroke-width="0.35" >14</text>
<line x1="805" y1="545.1" x2="814" y2="545.1" stroke="#000" stroke-width="1"/>
<text x="825" y="550.9" font-size="16" fill="#000" textLength="18.2" lengthAdjust="spacingAndGlyphs" stroke="#000" stroke-width="0.35" >12</text>
<line x1="805" y1="586.4" x2="814" y2="586.4" stroke="#000" stroke-width="1"/>
<text x="825" y="592.2" font-size="16" fill="#000" textLength="18.2" lengthAdjust="spacingAndGlyphs" stroke="#000" stroke-width="0.35" >10</text>
<line x1="805" y1="626.2" x2="814" y2="626.2" stroke="#000" stroke-width="1"/>
<text x="825" y="632" font-size="16" fill="#000" stroke="#000" stroke-width="0.35" >8</text>
<line x1="805" y1="666.2" x2="814" y2="666.2" stroke="#000" stroke-width="1"/>
<text x="825" y="672" font-size="16" fill="#000" stroke="#000" stroke-width="0.35" >6</text>
<line x1="805" y1="705.3" x2="814" y2="705.3" stroke="#000" stroke-width="1"/>
<text x="825" y="711.1" font-size="16" fill="#000" stroke="#000" stroke-width="0.35" >4</text>
<line x1="805" y1="743.4" x2="814" y2="743.4" stroke="#000" stroke-width="1"/>
<text x="825" y="749.2" font-size="16" fill="#000" stroke="#000" stroke-width="0.35" >2</text>
<line x1="805" y1="781.5" x2="814" y2="781.5" stroke="#000" stroke-width="1"/>
<text x="825" y="787.3" font-size="16" fill="#000" stroke="#000" stroke-width="0.35" >0</text>
<text x="712.8" y="65" font-size="11.5" fill="#14a50a" text-anchor="middle" stroke="#14a50a" stroke-width="0.35" font-weight="bold">0</text>
<text x="712.8" y="799.2" font-size="11.5" fill="#14a50a" text-anchor="middle" stroke="#14a50a" stroke-width="0.35" font-weight="bold">0</text>
<text x="758.3" y="65" font-size="11.5" fill="#14a50a" text-anchor="middle" stroke="#14a50a" stroke-width="0.35" font-weight="bold">20</text>
<text x="758.3" y="799.2" font-size="11.5" fill="#14a50a" text-anchor="middle" stroke="#14a50a" stroke-width="0.35" font-weight="bold">20</text>
<text x="804.3" y="65" font-size="11.5" fill="#14a50a" text-anchor="middle" stroke="#14a50a" stroke-width="0.35" font-weight="bold">40</text>
<text x="804.3" y="799.2" font-size="11.5" fill="#14a50a" text-anchor="middle" stroke="#14a50a" stroke-width="0.35" font-weight="bold">40</text>
<text x="850.5" y="65" font-size="11.5" fill="#14a50a" text-anchor="middle" stroke="#14a50a" stroke-width="0.35" font-weight="bold">60</text>
<text x="850.5" y="799.2" font-size="11.5" fill="#14a50a" text-anchor="middle" stroke="#14a50a" stroke-width="0.35" font-weight="bold">60</text>
<text x="732.3" y="813.2" font-size="12" fill="#22b022" textLength="56" lengthAdjust="spacingAndGlyphs" stroke="#22b022" stroke-width="0.35" >Speed (kt)</text>
<text x="0" y="0" font-size="16.7" fill="#000" stroke="#000" stroke-width="0.3" transform="translate(774,356.8) rotate(90)" textLength="139.3" lengthAdjust="spacingAndGlyphs">Height (1000 Feet)</text>
<circle cx="58.5" cy="23.1" r="4.7" fill="#000"/>
<text x="69.1" y="30.6" font-size="22" fill="#000" textLength="54.7" lengthAdjust="spacingAndGlyphs" stroke="#000" stroke-width="0.35" >NZRK</text>
<text x="130.3" y="28.3" font-size="13" fill="#000" textLength="146.2" lengthAdjust="spacingAndGlyphs" stroke="#000" stroke-width="0.35" >-38.887°,176.364° (54,91)</text>
<text x="295.6" y="30" font-size="20.5" fill="#000" textLength="155.4" lengthAdjust="spacingAndGlyphs" stroke="#000" stroke-width="0.35" >Valid 1800 NZDT</text>
<text x="458" y="29.6" font-size="14.5" fill="#000" textLength="52" lengthAdjust="spacingAndGlyphs" stroke="#000" stroke-width="0.35" >(0500Z)</text>
<text x="518" y="30.7" font-size="20.5" fill="#000" textLength="156.5" lengthAdjust="spacingAndGlyphs" stroke="#000" stroke-width="0.35" >MON 8 Dec 2025</text>
<text x="682.3" y="29.2" font-size="15" fill="#000" textLength="124.7" lengthAdjust="spacingAndGlyphs" stroke="#000" stroke-width="0.35" >[29hrFcst@0412z]</text>
<text x="287.2" y="48.6" font-size="13" fill="#b4003c" textLength="289" lengthAdjust="spacingAndGlyphs" stroke="#b4003c" stroke-width="0.35" >Plcl=768 Tlcl[C]=6 Shox=2 Pwat[cm]=2 Cape[J]= 158</text>
<text x="44.5" y="58.5" font-size="17" fill="#000" text-anchor="end" stroke="#000" stroke-width="0.35" >250</text>
<text x="44.5" y="153.45" font-size="17" fill="#000" text-anchor="end" stroke="#000" stroke-width="0.35" >300</text>
<text x="44.5" y="303.27" font-size="17" fill="#000" text-anchor="end" stroke="#000" stroke-width="0.35" >400</text>
<text x="44.5" y="419.48" font-size="17" fill="#000" text-anchor="end" stroke="#000" stroke-width="0.35" >500</text>
<text x="44.5" y="594.72" font-size="17" fill="#000" text-anchor="end" stroke="#000" stroke-width="0.35" >700</text>
<text x="44.5" y="695.83" font-size="17" fill="#000" text-anchor="end" stroke="#000" stroke-width="0.35" >850</text>
<text x="44.5" y="780.47" font-size="17" fill="#000" text-anchor="end" stroke="#000" stroke-width="0.35" >1000</text>
<text x="0" y="0" font-size="16.8" fill="#000" stroke="#000" stroke-width="0.3" transform="translate(14.6,469) rotate(-90)" textLength="50" lengthAdjust="spacingAndGlyphs">P (hPa)</text>
<text x="48" y="49" font-size="11.5" fill="#14a50a" textLength="16.8" lengthAdjust="spacingAndGlyphs" stroke="#14a50a" stroke-width="0.35" >0.0</text>
<text x="48" y="64.4" font-size="11.5" fill="#000" textLength="16.8" lengthAdjust="spacingAndGlyphs" stroke="#000" stroke-width="0.35" >0.0</text>
<text x="48" y="798.8" font-size="11.5" fill="#14a50a" textLength="16.5" lengthAdjust="spacingAndGlyphs" stroke="#14a50a" stroke-width="0.35" >0.0</text>
<text x="48" y="813.1" font-size="11.5" fill="#000" textLength="16.5" lengthAdjust="spacingAndGlyphs" stroke="#000" stroke-width="0.35" >0.0</text>
<text x="78.5" y="49" font-size="11.5" fill="#14a50a" textLength="16.8" lengthAdjust="spacingAndGlyphs" stroke="#14a50a" stroke-width="0.35" >0.5</text>
<text x="78.5" y="64.4" font-size="11.5" fill="#000" textLength="16.8" lengthAdjust="spacingAndGlyphs" stroke="#000" stroke-width="0.35" >0.5</text>
<text x="78.5" y="798.8" font-size="11.5" fill="#14a50a" textLength="16.5" lengthAdjust="spacingAndGlyphs" stroke="#14a50a" stroke-width="0.35" >0.5</text>
<text x="78.5" y="813.1" font-size="11.5" fill="#000" textLength="16.5" lengthAdjust="spacingAndGlyphs" stroke="#000" stroke-width="0.35" >0.5</text>
<text x="109" y="49" font-size="11.5" fill="#14a50a" textLength="16.8" lengthAdjust="spacingAndGlyphs" stroke="#14a50a" stroke-width="0.35" >1.0</text>
<text x="109" y="64.4" font-size="11.5" fill="#000" textLength="16.8" lengthAdjust="spacingAndGlyphs" stroke="#000" stroke-width="0.35" >1.0</text>
<text x="109" y="798.8" font-size="11.5" fill="#14a50a" textLength="16.5" lengthAdjust="spacingAndGlyphs" stroke="#14a50a" stroke-width="0.35" >1.0</text>
<text x="109" y="813.1" font-size="11.5" fill="#000" textLength="16.5" lengthAdjust="spacingAndGlyphs" stroke="#000" stroke-width="0.35" >1.0</text>
<text x="133.2" y="798.8" font-size="12" fill="#14a50a" textLength="102.3" lengthAdjust="spacingAndGlyphs" stroke="#14a50a" stroke-width="0.35" >CloudWater (g/Kg)</text>
<text x="133.2" y="813.1" font-size="12" fill="#000" textLength="122" lengthAdjust="spacingAndGlyphs" stroke="#000" stroke-width="0.35" >Grid-Scale Cloudiness</text>
<line x1="86.5" y1="800.5" x2="86.5" y2="809.5" stroke="#444" stroke-width="1"/>
<text x="86.27" y="833.5" font-size="16" fill="#000" text-anchor="middle" stroke="#000" stroke-width="0.35" >-30</text>
<line x1="168.5" y1="800.5" x2="168.5" y2="809.5" stroke="#444" stroke-width="1"/>
<text x="168.62" y="833.5" font-size="16" fill="#000" text-anchor="middle" stroke="#000" stroke-width="0.35" >-20</text>
<line x1="250.5" y1="800.5" x2="250.5" y2="809.5" stroke="#444" stroke-width="1"/>
<text x="250.96" y="833.5" font-size="16" fill="#000" text-anchor="middle" stroke="#000" stroke-width="0.35" >-10</text>
<line x1="333.5" y1="800.5" x2="333.5" y2="809.5" stroke="#444" stroke-width="1"/>
<text x="333.31" y="833.5" font-size="16" fill="#000" text-anchor="middle" stroke="#000" stroke-width="0.35" >0</text>
<line x1="415.5" y1="800.5" x2="415.5" y2="809.5" stroke="#444" stroke-width="1"/>
<text x="415.65" y="833.5" font-size="16" fill="#000" text-anchor="middle" stroke="#000" stroke-width="0.35" >10</text>
<line x1="497.5" y1="800.5" x2="497.5" y2="809.5" stroke="#444" stroke-width="1"/>
<text x="497.99" y="833.5" font-size="16" fill="#000" text-anchor="middle" stroke="#000" stroke-width="0.35" >20</text>
<line x1="580.5" y1="800.5" x2="580.5" y2="809.5" stroke="#444" stroke-width="1"/>
<text x="580.34" y="833.5" font-size="16" fill="#000" text-anchor="middle" stroke="#000" stroke-width="0.35" >30</text>
<line x1="662.5" y1="800.5" x2="662.5" y2="809.5" stroke="#444" stroke-width="1"/>
<text x="662.68" y="833.5" font-size="16" fill="#000" text-anchor="middle" stroke="#000" stroke-width="0.35" >40</text>
<text x="375.6" y="854.2" font-size="15" fill="#000" textLength="110.4" lengthAdjust="spacingAndGlyphs" stroke="#000" stroke-width="0.35" >Temperature (C)</text>
</svg></body></html>
